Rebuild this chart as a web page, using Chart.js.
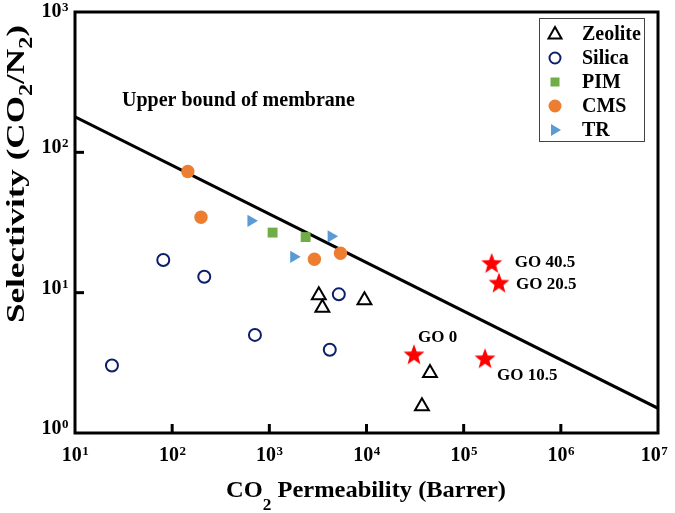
<!DOCTYPE html>
<html>
<head>
<meta charset="utf-8">
<script src="https://cdn.jsdelivr.net/npm/chart.js@4.4.1/dist/chart.umd.min.js"></script>
<style>
body{margin:0;background:#fff;}
canvas{display:block;}
</style>
</head>
<body>
<canvas id="myChart" width="675" height="513"></canvas>
<script>
// values (x = CO2 permeability, y = CO2/N2 selectivity)
const zeoliteP=[3230,3515,9530,45000,37200];
const zeoliteS=[9.57,7.8,8.83,2.68,1.55];

const silicaP=[24,81,214,711,4190,5190];
const silicaS=[3.03,17.1,13.0,5.0,3.92,9.73];

const pimP=[1080,2365];
const pimS=[26.8,24.9];

const cmsP=[145,198,2910,5400];
const cmsS=[73,34.5,17.3,19.1];

const trP=[647,1782,4325];
const trS=[32.5,18.0,25.2];

const goP=[30800,166000,231000,194500];
const goS=[3.64,3.41,11.8,16.3];
const goLabels=["GO 0","GO 10.5","GO 20.5","GO 40.5"];

const boundP=[10,1e7];
const boundS=[179,1.5];

const xTickExp=[1,2,3,4,5,6,7];
const yTickExp=[0,1,2,3];

const FONT="'Liberation Serif','Times New Roman',serif";

function toXY(px,sy){
return px.map((p,i)=>({x:p,y:sy[i]}));
}

function makeStar(r,color){
let s=Math.ceil(r*2+2);
let c=document.createElement("canvas");
c.width=s;
c.height=s;
let g=c.getContext("2d");
g.fillStyle=color;
g.beginPath();
for(let i=0;i<10;i++){
let rad=i%2?r*0.42:r;
let a=-Math.PI/2+i*Math.PI/5;
g.lineTo(s/2+rad*Math.cos(a),s/2+1+rad*Math.sin(a));
}
g.closePath();
g.fill();
return c;
}

const star=makeStar(11,"#ff0000");

function supText(c,base,exp,x,y,align){
c.font="bold 20px "+FONT;
let w1=c.measureText(base).width;
c.font="bold 13px "+FONT;
let w2=c.measureText(exp).width;
let x0=align==="center"?x-(w1+w2)/2:x-(w1+w2);
c.textAlign="left";
c.textBaseline="alphabetic";
c.font="bold 20px "+FONT;
c.fillText(base,x0,y);
c.font="bold 13px "+FONT;
c.fillText(exp,x0+w1+0.5,y-6);
}

// draws a list of [text,size,dy] pieces, stretched to a given length
function pieces(c,parts,x,y,len){
let w=0;
parts.forEach(p=>{c.font="bold "+p[1]+"px "+FONT;w+=c.measureText(p[0]).width;});
let k=len/w;
c.save();
c.translate(x,y);
c.scale(k,1);
let cx=0;
c.textAlign="left";
c.textBaseline="alphabetic";
parts.forEach(p=>{
c.font="bold "+p[1]+"px "+FONT;
c.fillText(p[0],cx,p[2]);
cx+=c.measureText(p[0]).width;
});
c.restore();
}

function legendMark(c,kind,x,y){
c.save();
c.beginPath();
if(kind==="tri"){
c.moveTo(x,y-7);c.lineTo(x+6.5,y+4.5);c.lineTo(x-6.5,y+4.5);c.closePath();
c.fillStyle="#fff";c.fill();c.lineWidth=2;c.strokeStyle="#000";c.stroke();
}else if(kind==="ring"){
c.arc(x,y,5.5,0,Math.PI*2);
c.lineWidth=2;c.strokeStyle="#0b1f6b";c.stroke();
}else if(kind==="sq"){
c.fillStyle="#70ad47";c.fillRect(x-4.5,y-4.5,9,9);
}else if(kind==="dot"){
c.arc(x,y,6.5,0,Math.PI*2);c.fillStyle="#ed7d31";c.fill();
}else{
c.moveTo(x+6,y);c.lineTo(x-4,y-6);c.lineTo(x-4,y+6);c.closePath();
c.fillStyle="#5b9bd5";c.fill();
}
c.restore();
}

const legendRows=[
["tri","Zeolite"],
["ring","Silica"],
["sq","PIM"],
["dot","CMS"],
["trr","TR"]
];

const decor={
id:"decor",
afterDraw(chart){
let c=chart.ctx;
let a=chart.chartArea;
let sx=chart.scales.x;
let sy=chart.scales.y;
c.save();
c.fillStyle="#000";
c.strokeStyle="#000";

// frame and inward ticks
c.lineWidth=3;
c.strokeRect(a.left,a.top,a.right-a.left,a.bottom-a.top);
xTickExp.slice(1,-1).forEach(e=>{
let px=sx.getPixelForValue(Math.pow(10,e));
c.beginPath();c.moveTo(px,a.bottom);c.lineTo(px,a.bottom-9);c.stroke();
});
yTickExp.slice(1,-1).forEach(e=>{
let py=sy.getPixelForValue(Math.pow(10,e));
c.beginPath();c.moveTo(a.left,py);c.lineTo(a.left+9,py);c.stroke();
});

// tick labels
xTickExp.forEach(e=>{
let px=sx.getPixelForValue(Math.pow(10,e));
supText(c,"10",String(e),Math.min(px,668-14),461,"center");
});
yTickExp.forEach(e=>{
let py=sy.getPixelForValue(Math.pow(10,e));
supText(c,"10",String(e),68,Math.max(py+1,17),"right");
});

// axis titles
pieces(c,[["CO",24,0],["2",17,13],[" Permeability (Barrer)",24,0]],226,497,280);
c.save();
c.translate(24,323);
c.rotate(-Math.PI/2);
pieces(c,[["Selectivity (CO",26,0],["2",18,8],["/N",26,0],["2",18,8],[")",26,0]],0,0,298);
c.restore();

// bound label
c.font="bold 20px "+FONT;
c.textAlign="left";
c.fillText("Upper bound of membrane",122,106);

// GO labels
const off=[[4,-12],[12,22],[17,6],[23,4]];
c.font="bold 17px "+FONT;
goLabels.forEach((t,i)=>{
let px=sx.getPixelForValue(goP[i]);
let py=sy.getPixelForValue(goS[i]);
c.fillText(t,px+off[i][0],py+off[i][1]);
});

// legend
c.lineWidth=1;
c.strokeStyle="#444";
c.strokeRect(539.5,18.5,105,123);
c.font="bold 20px "+FONT;
c.fillStyle="#000";
legendRows.forEach((r,i)=>{
let y=34+i*24;
legendMark(c,r[0],555,y);
c.fillStyle="#000";
c.fillText(r[1],582,y+6);
});
c.restore();
}
};

const ctx=document.getElementById("myChart");

let chart=new Chart(ctx,{
type:"scatter",
data:{
datasets:[
{
label:"Upper bound",
type:"line",
data:toXY(boundP,boundS),
borderColor:"#000",
borderWidth:3,
pointRadius:0,
fill:false,
order:10
},
{
label:"Zeolite",
data:toXY(zeoliteP,zeoliteS),
pointStyle:"triangle",
pointRadius:8,
pointBorderWidth:2,
pointBorderColor:"#000",
pointBackgroundColor:"#fff",
order:1
},
{
label:"Silica",
data:toXY(silicaP,silicaS),
pointStyle:"circle",
pointRadius:6,
pointBorderWidth:2,
pointBorderColor:"#0b1f6b",
pointBackgroundColor:"rgba(0,0,0,0)",
order:1
},
{
label:"PIM",
data:toXY(pimP,pimS),
pointStyle:"rect",
pointRadius:7,
pointBorderWidth:0,
pointBackgroundColor:"#70ad47",
order:1
},
{
label:"CMS",
data:toXY(cmsP,cmsS),
pointStyle:"circle",
pointRadius:6.7,
pointBorderWidth:0,
pointBackgroundColor:"#ed7d31",
order:1
},
{
label:"TR",
data:toXY(trP,trS),
pointStyle:"triangle",
pointRotation:90,
pointRadius:7,
pointBorderWidth:0,
pointBackgroundColor:"#5b9bd5",
order:1
},
{
label:"GO",
data:toXY(goP,goS),
pointStyle:star,
pointRadius:11,
order:0
}
]
},
options:{
responsive:false,
animation:false,
layout:{padding:{top:7,right:17,left:0,bottom:0}},
plugins:{
legend:{display:false},
tooltip:{enabled:false}
},
scales:{
x:{
type:"logarithmic",
min:10,
max:1e7,
ticks:{display:false},
grid:{display:false},
border:{display:false},
afterFit:s=>{s.height=80;}
},
y:{
type:"logarithmic",
min:1,
max:1000,
ticks:{display:false},
grid:{display:false},
border:{display:false},
afterFit:s=>{s.width=75;}
}
}
},
plugins:[decor]
});
</script>
</body>
</html>
